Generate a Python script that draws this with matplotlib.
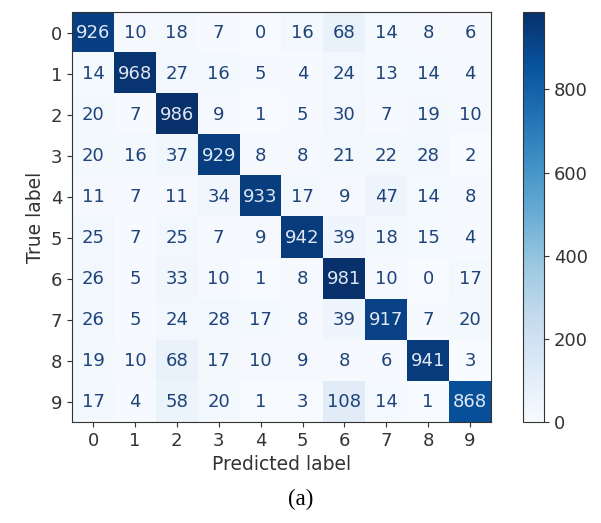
import numpy as np
import matplotlib
matplotlib.use("Agg")
import matplotlib.pyplot as plt

labels = ["0", "1", "2", "3", "4", "5", "6", "7", "8", "9"]
row0 = [926, 10, 18, 7, 0, 16, 68, 14, 8, 6]
row1 = [14, 968, 27, 16, 5, 4, 24, 13, 14, 4]
row2 = [20, 7, 986, 9, 1, 5, 30, 7, 19, 10]
row3 = [20, 16, 37, 929, 8, 8, 21, 22, 28, 2]
row4 = [11, 7, 11, 34, 933, 17, 9, 47, 14, 8]
row5 = [25, 7, 25, 7, 9, 942, 39, 18, 15, 4]
row6 = [26, 5, 33, 10, 1, 8, 981, 10, 0, 17]
row7 = [26, 5, 24, 28, 17, 8, 39, 917, 7, 20]
row8 = [19, 10, 68, 17, 10, 9, 8, 6, 941, 3]
row9 = [17, 4, 58, 20, 1, 3, 108, 14, 1, 868]
cbar_ticks = [0, 200, 400, 600, 800]

cm = np.array([row0, row1, row2, row3, row4, row5, row6, row7, row8, row9])

fig = plt.figure(figsize=(6.01, 5.23), dpi=100)
ax = fig.add_axes([0.120, 0.193, 0.697, 0.784])
cax = fig.add_axes([0.870, 0.193, 0.035, 0.784])

cmap = plt.get_cmap("Blues")
im = ax.imshow(cm, cmap=cmap, vmin=cm.min(), vmax=cm.max(), aspect="auto")
thresh = (cm.max() + cm.min()) / 2.0
for i in range(cm.shape[0]):
    for j in range(cm.shape[1]):
        color = cmap(0.0) if cm[i, j] > thresh else cmap(1.0)
        ax.text(j, i, str(cm[i, j]), ha="center", va="center", color=color,
                fontsize=13, alpha=0.9)

tick_color = "#333333"
ax.set_xticks(range(len(labels)))
ax.set_yticks(range(len(labels)))
ax.set_xticklabels(labels, fontsize=13)
ax.set_yticklabels(labels, fontsize=13)
ax.tick_params(colors=tick_color, labelcolor=tick_color)
ax.set_xlabel("Predicted label", fontsize=13.5, color=tick_color)
ax.set_ylabel("True label", fontsize=13.5, color=tick_color)
for s in ax.spines.values():
    s.set_color(tick_color)

cb = fig.colorbar(im, cax=cax)
cb.set_ticks(cbar_ticks)
cb.ax.tick_params(labelsize=13, colors=tick_color, labelcolor=tick_color)
cb.outline.set_edgecolor(tick_color)

fig.text(0.5, 0.045, "(a)", ha="center", va="center", fontsize=16.5, family="Liberation Serif")

fig.savefig("out.png", dpi=100)
